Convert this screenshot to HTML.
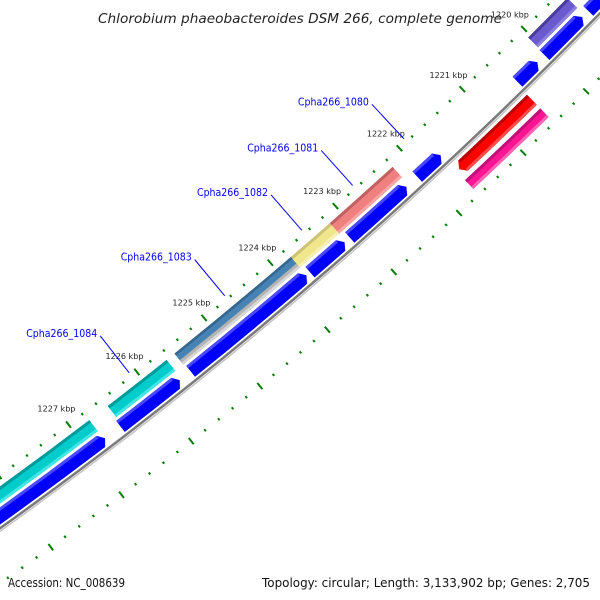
<!DOCTYPE html>
<html><head><meta charset="utf-8"><style>
html,body{margin:0;padding:0;background:#fff;width:600px;height:600px;overflow:hidden;}
svg{display:block;overflow:hidden;}
</style></head><body>
<svg id="map" width="600" height="600" viewBox="0 0 600 600" xmlns="http://www.w3.org/2000/svg">
<rect width="600" height="600" fill="#fff"/>
<g id="ticks"></g>
<g id="backbone"></g>
<g id="features"></g>
<g id="labels"></g>
<text x="98" y="23" font-family="'DejaVu Sans','Liberation Sans',sans-serif" font-style="italic" font-size="13.5" fill="#222" textLength="404" lengthAdjust="spacingAndGlyphs">Chlorobium phaeobacteroides DSM 266, complete genome</text>
<text x="8" y="587" font-family="'DejaVu Sans','Liberation Sans',sans-serif" font-size="12" fill="#111" textLength="117" lengthAdjust="spacingAndGlyphs">Accession: NC_008639</text>
<text x="262" y="587" font-family="'DejaVu Sans','Liberation Sans',sans-serif" font-size="12" fill="#111" textLength="328" lengthAdjust="spacingAndGlyphs">Topology: circular; Length: 3,133,902 bp; Genes: 2,705</text>
</svg>
<script>
// ---- data ----
const majorTicksKbp = [1217,1218,1219,1220,1221,1222,1223,1224,1225,1226,1227,1228,1229,1230];
const labeledKbp = [1220,1221,1222,1223,1224,1225,1226,1227];
const featStart = [1218000,1219393,1222205,1223179,1223777,1225643,1226777, 1218000,1219429,1220161,1221705,1222241,1223196,1223777,1225670,1226759, 1220509,1220509];
const featEnd   = [1219240,1220036,1223179,1223777,1225527,1226509,1229500, 1219330,1220045,1220482,1222071,1223116,1223723,1225509,1226536,1229500, 1221660,1221696];
const featTrack = ['c','c','c','c','c','c','c', 'b','b','b','b','b','b','b','b','b', 'r','p'];
const featKind  = ['olive','slate','salmon','khaki','steel','cyan','cyan', 'blue','blue','blue','blue','blue','blue','blue','blue','blue', 'red','pink'];
const labelNames = ['Cpha266_1080','Cpha266_1081','Cpha266_1082','Cpha266_1083','Cpha266_1084'];
const labelBp    = [1221888,1222692,1223478,1224652,1226076];

// ---- geometry ----
const CX=-2591, CY=-3097, NS='http://www.w3.org/2000/svg';
function ang(bp){return (52.94+(bp-1227000)*0.00112)*Math.PI/180;}
function pt(r,bp){const a=ang(bp);return [CX+r*Math.cos(a),CY+r*Math.sin(a)];}
function f(p){return p[0].toFixed(2)+' '+p[1].toFixed(2);}
function arcPath(b1,b2,r1,r2){
  return 'M'+f(pt(r1,b1))+' A'+r1+' '+r1+' 0 0 1 '+f(pt(r1,b2))+' L'+f(pt(r2,b2))+' A'+r2+' '+r2+' 0 0 0 '+f(pt(r2,b1))+' Z';
}
function mk(tag,attrs,parent){const e=document.createElementNS(NS,tag);for(const k in attrs)e.setAttribute(k,attrs[k]);parent.appendChild(e);return e;}

const tracks={c:[4422,4436],b:[4439,4453],r:[4462,4476],p:[4481,4493]};
const kinds={
 olive:{body:'#7a9a2e',dark:'#55701c',light:'#9cb850'},
 slate:{body:'#6a5acd',dark:'#4a3c9a',light:'#8c80e0'},
 salmon:{body:'#f08080',dark:'#c06262',light:'#f7a4a4'},
 khaki:{body:'#f0e68c',dark:'#cdc276',light:'#f7f0b4'},
 steel:{body:'#4682b4',dark:'#36668e',light:'#c0c0c0'},
 cyan:{body:'#00cccc',dark:'#009a9a',light:'#40e6e6'},
 blue:{body:'#0000ff',dark:'#0000cc',light:'#4848ff'},
 red:{body:'#ff0000',dark:'#b80000',light:'#ff4a4a'},
 pink:{body:'#ff1493',dark:'#c0107a',light:'#ff62b4'}
};

// ---- ticks ----
const tg=document.getElementById('ticks');
[4413,4501].forEach(function(R){
  for(let bp=1216000;bp<=1231000;bp+=200){
    const major = majorTicksKbp.indexOf(bp/1000)>=0;
    const h = major?4:1.3;
    const p1=pt(R-h,bp), p2=pt(R+h,bp);
    const l=mk('line',{x1:p1[0],y1:p1[1],x2:p2[0],y2:p2[1],stroke:'#0a7d0a','stroke-width':2},tg);
    
    
  }
});
labeledKbp.forEach(function(k){
  const p=pt(4393,k*1000);
  const t=mk('text',{x:p[0],y:p[1]+3,'text-anchor':'middle','font-family':"'DejaVu Sans','Liberation Sans',sans-serif",'font-size':8,fill:'#222',textLength:38,lengthAdjust:'spacingAndGlyphs'},tg);
  t.textContent=k+' kbp';
  
  
});

// ---- backbone ----
const bg=document.getElementById('backbone');
const b1=pt(4456,1215000), b2=pt(4456,1232000);
const bb=mk('path',{d:'M'+f(b1)+' A4456 4456 0 0 1 '+f(b2),fill:'none',stroke:'#7a7a7a','stroke-width':2.5},bg);


const s1=pt(4458.5,1215000), s2=pt(4458.5,1232000);
const sh=mk('path',{d:'M'+f(s1)+' A4458.5 4458.5 0 0 1 '+f(s2),fill:'none',stroke:'#c4c4c4','stroke-width':1.5},bg);



// ---- features ----
const fg=document.getElementById('features');
const AD=60;
for(let i=0;i<featStart.length;i++){
  const s=featStart[i], e=featEnd[i], tr=tracks[featTrack[i]], c=kinds[featKind[i]];
  const r1=tr[0], r2=tr[1], rm=(r1+r2)/2;
  let d, bs=s, be=e;
  if(featKind[i]==='blue'){
    bs=s+AD;
    d='M'+f(pt(rm,s))+' L'+f(pt(r1,s+AD))+' A'+r1+' '+r1+' 0 0 1 '+f(pt(r1,e))+' L'+f(pt(r2,e))+' A'+r2+' '+r2+' 0 0 0 '+f(pt(r2,s+AD))+' Z';
  } else if(featKind[i]==='red'){
    be=e-AD;
    d='M'+f(pt(r1,s))+' A'+r1+' '+r1+' 0 0 1 '+f(pt(r1,e-AD))+' L'+f(pt(rm,e))+' L'+f(pt(r2,e-AD))+' A'+r2+' '+r2+' 0 0 0 '+f(pt(r2,s))+' Z';
  } else {
    d=arcPath(s,e,r1,r2);
  }
  const g=mk('g',{},fg);
  
  
  const body=mk('path',{d:d,fill:c.body},g);
  
  
  if(featKind[i]==='blue'){
    const t=mk('path',{d:arcPath(bs,be,r1,r1+3),fill:c.light},g);
    
    
  } else if(featKind[i]==='steel'){
    const t=mk('path',{d:arcPath(bs,be,r1,r1+2.5),fill:c.dark},g);
    
    
    const t2=mk('path',{d:arcPath(bs,be,r1+8.5,r2),fill:'#b4b4b4'},g);
    
    
    const t3=mk('path',{d:arcPath(bs,be,r2-2.5,r2),fill:'#d8d8d8'},g);
    
    
  } else {
    const t=mk('path',{d:arcPath(bs,be,r1,r1+3),fill:c.dark},g);
    
    
    const t2=mk('path',{d:arcPath(bs,be,r2-3,r2),fill:c.light},g);
    
    
  }
}

// ---- gene labels ----
const lg=document.getElementById('labels');
for(let i=0;i<labelNames.length;i++){
  const p1=pt(4362,labelBp[i]), p2=pt(4409,labelBp[i]);
  const l=mk('line',{x1:p1[0],y1:p1[1],x2:p2[0],y2:p2[1],stroke:'#0000ff','stroke-width':1},lg);
  
  
  const t=mk('text',{x:p1[0]-3,y:p1[1]+1,'text-anchor':'end','font-family':"'DejaVu Sans','Liberation Sans',sans-serif",'font-size':10.5,fill:'#0000ff',textLength:71,lengthAdjust:'spacingAndGlyphs'},lg);
  t.textContent=labelNames[i];
  
  
}
</script>
</body></html>
